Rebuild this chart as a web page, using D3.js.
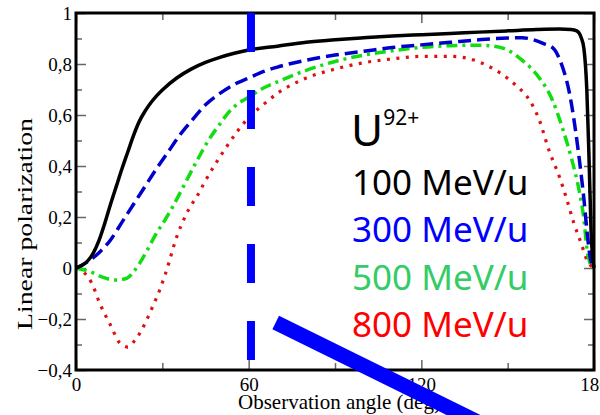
<!DOCTYPE html>
<html><head><meta charset="utf-8">
<script src="https://cdn.jsdelivr.net/npm/d3@7/dist/d3.min.js"></script>
<style>
html,body{margin:0;padding:0;background:#fff;}
svg{display:block;}
</style>
</head><body>
<svg id="chart" width="600" height="415"></svg>
<script>
// ---- data ----
const angles100 = [0,2,4,6,8,10,12,14,16,18,20,22,24,26,28,30,35,40,45,50,55,60,70,80,90,100,110,120,130,140,150,160,168,172,174,175.5,176.5,177.5,178.3,179,180];
const pol100    = [0,0.01,0.027,0.058,0.108,0.175,0.25,0.32,0.39,0.455,0.52,0.575,0.615,0.648,0.675,0.698,0.745,0.78,0.806,0.826,0.842,0.855,0.87,0.885,0.895,0.903,0.91,0.915,0.92,0.925,0.93,0.935,0.937,0.935,0.93,0.905,0.86,0.70,0.42,0.14,0];

const angles300 = [0,4,8,12,16,20,24,28,32,36,40,45,50,55,60,65,70,80,90,100,110,120,130,140,150,155,159,162.5,166,168,169,171.4,173.7,175.5,176.5,177.6,178.7,180];
const pol300    = [0,0.024,0.06,0.11,0.18,0.25,0.32,0.39,0.455,0.52,0.575,0.64,0.685,0.72,0.745,0.77,0.788,0.815,0.835,0.85,0.865,0.875,0.885,0.895,0.902,0.903,0.895,0.88,0.86,0.82,0.79,0.69,0.53,0.37,0.27,0.14,0.04,0];

const angles500 = [0,5,9,13.5,17.7,20,22.2,25,28,31,33.6,37.8,42,46,50,53.4,57,60,65,70,80,90,100,110,120,130,140,145,150,155,158,161,165.5,169,172.4,174.8,176.5,177.6,178.6,180];
const pol500    = [0,-0.015,-0.035,-0.047,-0.04,-0.015,0.02,0.075,0.137,0.19,0.24,0.33,0.42,0.5,0.565,0.615,0.65,0.67,0.705,0.73,0.775,0.81,0.835,0.852,0.865,0.872,0.874,0.87,0.855,0.815,0.785,0.745,0.66,0.55,0.42,0.306,0.19,0.07,0.02,0];

const angles800 = [0,3,5.5,8.3,11.8,15.3,18,20,22.2,24.3,26.4,29.1,31.5,35,38.5,43,44.7,48,52,56,60,65,70,80,90,100,110,120,130,135,142.5,148,153,157.5,161,164.4,168,170.6,173,175.5,177.6,180];
const pol800    = [0,-0.02,-0.06,-0.14,-0.22,-0.295,-0.31,-0.29,-0.255,-0.21,-0.157,-0.086,-0.008,0.122,0.215,0.3,0.337,0.40,0.47,0.535,0.59,0.64,0.685,0.745,0.78,0.805,0.82,0.83,0.83,0.825,0.796,0.76,0.715,0.66,0.58,0.46,0.357,0.267,0.176,0.098,0.03,0];

const energies = ["100 MeV/u","300 MeV/u","500 MeV/u","800 MeV/u"];
const xMajorTicks = [0,60,120,180];
const xMinorTicks = [30,90,150];
const yMajorTicks = [-0.4,-0.2,0,0.2,0.4,0.6,0.8,1];
const yMinorTicks = [-0.3,-0.1,0.1,0.3,0.5,0.7,0.9];
const xTitle = "Observation angle (deg)";
const yTitle = "Linear polarization";
const ionBase = "U", ionCharge = "92+";
// annotation marks (data coordinates: angle, polarization)
const markerVertical = [[60.8,1],[60.8,-0.362]];
const markerDiagonal = [[69.4,-0.214],[142.5,-0.62]];

// ---- chart ----
const svg = d3.select("#chart");
const x = d3.scaleLinear().domain([0,180]).range([76,594]);
const y = d3.scaleLinear().domain([-0.4,1]).range([370,13]);

const serif = "'Liberation Serif','Times New Roman',serif";
const sans = "'Noto Sans','Open Sans',sans-serif";

const fmtY = d => d === 0 ? "0" : (d === 1 ? "1" : d3.format(".1f")(d).replace(".", ","));

function styleTicks(g, color){
  g.select(".domain").remove();
  g.selectAll(".tick line").attr("stroke", color).attr("stroke-width", 1.5);
}

// minor ticks
svg.append("g").attr("transform","translate(0,370)")
  .call(d3.axisBottom(x).tickValues(xMinorTicks).tickSize(-7).tickFormat(""))
  .call(g=>styleTicks(g,"#666"));
svg.append("g").attr("transform","translate(0,13)")
  .call(d3.axisTop(x).tickValues(xMinorTicks).tickSize(-7).tickFormat(""))
  .call(g=>styleTicks(g,"#666"));
svg.append("g").attr("transform","translate(76,0)")
  .call(d3.axisLeft(y).tickValues(yMinorTicks).tickSize(-6).tickFormat(""))
  .call(g=>styleTicks(g,"#666"));
svg.append("g").attr("transform","translate(594,0)")
  .call(d3.axisRight(y).tickValues(yMinorTicks).tickSize(-6).tickFormat(""))
  .call(g=>styleTicks(g,"#666"));

// major ticks
const xb = svg.append("g").attr("transform","translate(0,370)")
  .call(d3.axisBottom(x).tickValues(xMajorTicks).tickSize(-10).tickPadding(8).tickFormat(d3.format("d")))
  .call(g=>styleTicks(g,"#666"));
xb.selectAll("text").attr("font-family",serif).attr("font-size",19).attr("fill","#000");
svg.append("g").attr("transform","translate(0,13)")
  .call(d3.axisTop(x).tickValues(xMajorTicks).tickSize(-10).tickFormat(""))
  .call(g=>styleTicks(g,"#666"));
const yl = svg.append("g").attr("transform","translate(76,0)")
  .call(d3.axisLeft(y).tickValues(yMajorTicks).tickSize(-10).tickPadding(4).tickFormat(fmtY))
  .call(g=>styleTicks(g,"#666"));
yl.selectAll("text").attr("font-family",serif).attr("font-size",19).attr("fill","#000");
svg.append("g").attr("transform","translate(594,0)")
  .call(d3.axisRight(y).tickValues(yMajorTicks).tickSize(-10).tickFormat(""))
  .call(g=>styleTicks(g,"#666"));

// curves
const line = d3.line().x(d=>x(d[0])).y(d=>y(d[1])).curve(d3.curveMonotoneX);
const series = [
  {a:angles100, v:pol100, color:"#000000", dash:null, w:3.5},
  {a:angles300, v:pol300, color:"#0000cc", dash:"13,6", w:3.5},
  {a:angles500, v:pol500, color:"#11dd11", dash:"11,5,3,5", w:3.5},
  {a:angles800, v:pol800, color:"#dd1111", dash:"3,6.5", w:3.2}
];
series.slice().reverse().forEach(s=>{
  svg.append("path")
    .datum(s.a.map((d,i)=>[d,s.v[i]]))
    .attr("d", line)
    .attr("fill","none")
    .attr("stroke", s.color)
    .attr("stroke-width", s.w)
    .attr("stroke-dasharray", s.dash)
    .attr("stroke-linejoin","round");
});

// frame
svg.append("rect")
  .attr("x", x(0)).attr("y", y(1))
  .attr("width", x(180)-x(0)).attr("height", y(-0.4)-y(1))
  .attr("fill","none").attr("stroke","#000").attr("stroke-width",3);

// axis titles
svg.append("text")
  .attr("x", 238).attr("y", 409)
  .attr("font-family", serif).attr("font-size", 21).attr("fill","#000")
  .text(xTitle);
svg.append("text")
  .attr("transform","translate(32,224) rotate(-90)")
  .attr("text-anchor","middle")
  .attr("font-family", serif).attr("font-size", 20).attr("fill","#000")
  .attr("textLength", 212).attr("lengthAdjust","spacingAndGlyphs")
  .text(yTitle);

// legend text
const ion = svg.append("text").attr("x",351).attr("y",146)
  .attr("font-family",sans).attr("fill","#000");
ion.append("tspan").attr("font-size",44).text(ionBase);
ion.append("tspan").attr("font-size",21).attr("dy",-21).text(ionCharge);

const legendColors = ["#000000","#0000ff","#33cc66","#ff0000"];
energies.forEach((t,i)=>{
  svg.append("text")
    .attr("x",352).attr("y",195 + i*47.3)
    .attr("font-family",sans).attr("font-size",35)
    .attr("fill",legendColors[i])
    .text(t);
});

// blue annotation overlays
svg.append("path")
  .datum(markerVertical)
  .attr("d", d3.line().x(d=>x(d[0])).y(d=>y(d[1])))
  .attr("stroke","#0000ff").attr("stroke-width",8)
  .attr("stroke-dasharray","39,38").attr("fill","none");
svg.append("path")
  .datum(markerDiagonal)
  .attr("d", d3.line().x(d=>x(d[0])).y(d=>y(d[1])))
  .attr("stroke","#0000ff").attr("stroke-width",15)
  .attr("fill","none");
</script>
</body></html>
